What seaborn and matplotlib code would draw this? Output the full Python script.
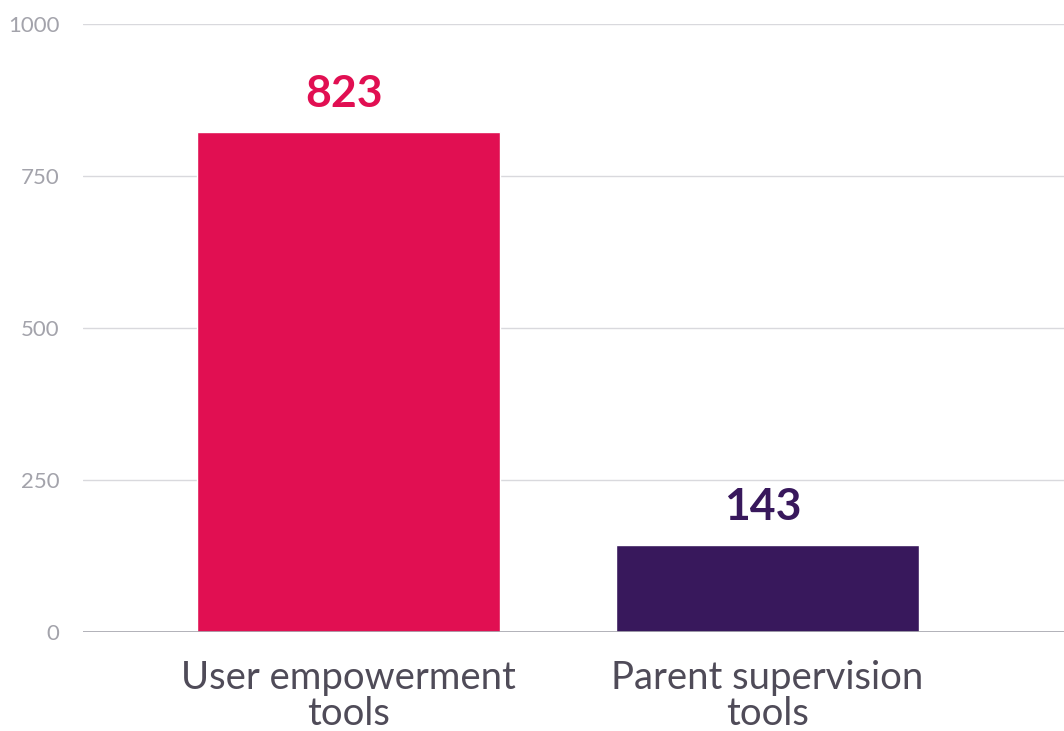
import matplotlib
matplotlib.use("Agg")
import matplotlib.pyplot as plt
import seaborn as sns
import pandas as pd

categories = ["User empowerment\ntools", "Parent supervision\ntools"]
values = [823, 143]
colors = ["#E10F52", "#38185C"]
yticks = [0, 250, 500, 750, 1000]

sns.set_theme(style="white")
plt.rcParams["font.family"] = ["Lato", "DejaVu Sans"]

df = pd.DataFrame({"category": categories, "value": values})

fig = plt.figure(figsize=(10.64, 7.31), dpi=100)
ax = fig.add_axes([83 / 1064, 99 / 731, 1 - 83 / 1064, (632 - 24) / 731])

sns.barplot(data=df, x="category", y="value", hue="category", palette=colors,
            width=0.723, saturation=1, legend=False, ax=ax, zorder=3)

ax.set_ylim(0, 1000)
ax.set_xlim(-0.634, 1.708)
ax.set_yticks(yticks)
ax.set_yticklabels([str(t) for t in yticks])
ax.yaxis.grid(True, color="#d9d9dd", linewidth=1, zorder=0)
ax.axhline(0, color="#a6a6ae", linewidth=1.2, zorder=4)
for s in ax.spines.values():
    s.set_visible(False)
ax.tick_params(axis="y", length=0, pad=17, labelsize=16, labelcolor="#a3a3ab")
ax.tick_params(axis="x", length=0, pad=20, labelsize=27.5, labelcolor="#4f4b58")
for lab in ax.get_xticklabels():
    lab.set_linespacing(1.0)
ax.set_xlabel("")
ax.set_ylabel("")

for i, (v, c) in enumerate(zip(values, colors)):
    ax.annotate(str(v), (i, v), xytext=(-3, 13), textcoords="offset points",
                ha="center", va="bottom", fontsize=32, fontweight="bold", color=c)

fig.savefig("out.png", dpi=100)
